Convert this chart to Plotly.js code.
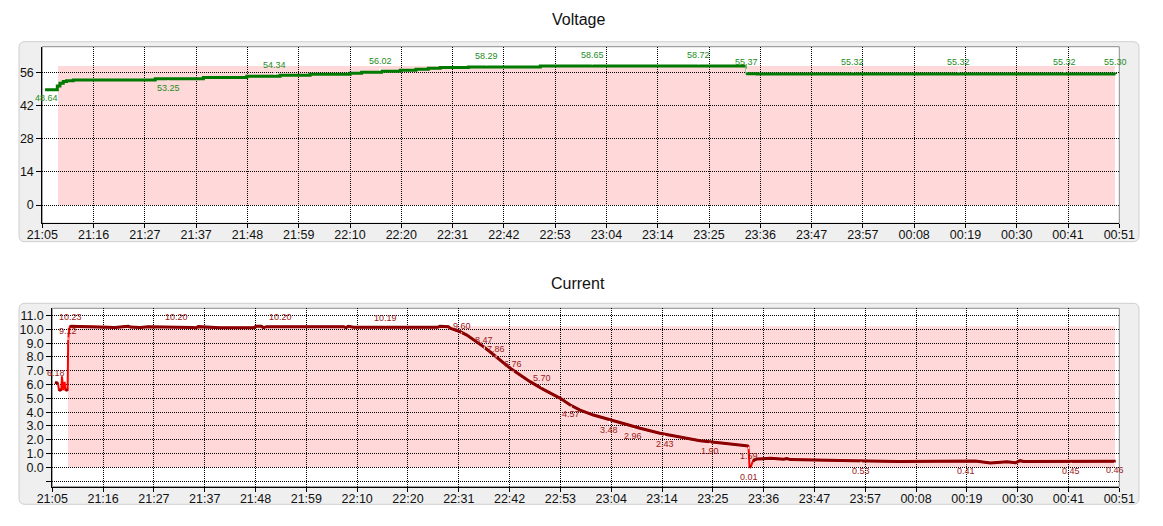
<!DOCTYPE html>
<html><head><meta charset="utf-8">
<script src="https://cdn.plot.ly/plotly-3.0.1.min.js"></script>
<style>html,body{margin:0;padding:0;background:#fff}#chart{width:1163px;height:526px}</style>
</head><body><div id="chart"></div>
<script>
// ---------- data (x = minutes after 21:05) ----------
const timeTickLabels = ['21:05','21:16','21:27','21:37','21:48','21:59','22:10','22:20','22:31','22:42','22:53','23:04','23:14','23:25','23:36','23:47','23:57','00:08','00:19','00:30','00:41','00:51'];
const spanMinutes = 226;
const chargeWindow = [3.3, 225.1];

const voltMinutes = [0.6, 3.0, 3.15, 3.7, 4.4, 5.1, 6.5, 23.7, 33.8, 42.9, 49.9, 56.2, 64.6, 67.0, 71.2, 75.1, 78.4, 81.0, 83.5, 89.4, 104.5, 120.0, 147.5, 147.7, 150.0, 225.2];
const voltValues  = [48.64, 48.64, 50.2, 51.4, 52.1, 52.5, 52.8, 53.25, 53.8, 54.34, 54.75, 55.15, 55.6, 56.02, 56.45, 56.9, 57.35, 57.75, 58.0, 58.29, 58.65, 58.72, 58.72, 55.37, 55.32, 55.30];
const voltTicks = [0, 14, 28, 42, 56];
const voltLabelMinutes = [0.78, 26.4, 48.8, 70.9, 93.2, 115.4, 137.7, 147.8, 170.1, 192.3, 214.5, 225.1];
const voltLabelValues  = [48.64, 53.25, 54.34, 56.02, 58.29, 58.65, 58.72, 55.37, 55.32, 55.32, 55.32, 55.30];

const curMinutes = [0.57, 1.2, 1.4, 1.9, 2.05, 2.3, 2.6, 2.8, 3.25, 3.3, 3.36, 3.5, 3.75, 12.9, 13.2, 16.1, 16.5, 18.6, 20.3, 29.9, 30.4, 30.9, 32.7, 35.5, 42.6, 43.2, 44.3, 44.7, 45.4, 61.7, 62.2, 62.7, 63.8, 78.6, 81.6, 82.1, 83.9, 84.3, 86.4, 87.8, 89.9, 91.3, 92.7, 94.9, 97.0, 99.1, 101.2, 104.0, 107.6, 109.7, 111.8, 114.6, 118.2, 121.7, 124.5, 128.7, 133.0, 137.2, 142.2, 147.46, 147.68, 147.97, 148.4, 149.2, 152.1, 154.9, 155.6, 156.3, 166.9, 177.8, 179.2, 195.5, 196.2, 198.7, 202.2, 204.0, 205.0, 205.7, 225.2];
const curValues  = [6.16, 6.1, 5.6, 5.6, 6.6, 5.6, 6.2, 5.6, 5.6, 8.3, 9.12, 9.8, 10.23, 10.18, 10.13, 10.22, 10.17, 10.13, 10.2, 10.14, 10.1, 10.2, 10.18, 10.12, 10.12, 10.22, 10.22, 10.13, 10.2, 10.2, 10.13, 10.22, 10.15, 10.18, 10.15, 10.22, 10.2, 10.08, 9.83, 9.59, 9.11, 8.75, 8.38, 7.78, 7.18, 6.69, 6.21, 5.65, 5.0, 4.52, 4.15, 3.79, 3.43, 3.07, 2.83, 2.47, 2.18, 1.93, 1.74, 1.54, 0.01, 0.05, 0.46, 0.6, 0.65, 0.58, 0.64, 0.56, 0.5, 0.43, 0.42, 0.45, 0.42, 0.32, 0.41, 0.33, 0.48, 0.42, 0.43];
const curTicks = [-1, 0, 1, 2, 3, 4, 5, 6, 7, 8, 9, 10, 11];
const curLabelMinutes = [0.78, 3.33, 3.86, 26.2, 48.4, 70.6, 86.7, 91.5, 94.0, 97.6, 103.7, 109.9, 118.0, 123.1, 129.7, 139.3, 147.5, 147.6, 171.3, 193.5, 215.8, 225.0];
const curLabelValues  = [6.18, 9.12, 10.23, 10.20, 10.20, 10.19, 9.60, 8.47, 7.86, 6.76, 5.70, 4.57, 3.48, 2.96, 2.43, 1.90, 1.59, 0.01, 0.53, 0.41, 0.45, 0.46];

// ---------- style / layout ----------
const voltLabelDy = [8, 9, -11, -11, -11, -11, -11, -11.5, -11.5, -11.5, -11.5, -11.5];
const curLabelDy  = [-9.4, -10.8, -9.5, -10, -10, -9, -9.2, -10.5, -10, -9.8, -10.4, 10, 10.7, 9.5, 10.5, 10, 10.3, 10, 10.7, 9.5, 9.5, 9.5];

const W = 1163, H = 526;
const px = x => x / W, py = y => 1 - y / H;
const FONT = "'Liberation Sans', Arial, sans-serif";

function withGaps(t, v, maxJump, maxSlope) {
  const xs = [], ys = [];
  for (let i = 0; i < t.length; i++) {
    xs.push(t[i]); ys.push(v[i]);
    if (i < t.length - 1) {
      const d = Math.abs(v[i + 1] - v[i]);
      const s = d / (t[i + 1] - t[i]);
      if (d > maxJump || s > maxSlope) { xs.push((t[i] + t[i + 1]) / 2); ys.push(null); }
    }
  }
  return {xs, ys};
}

const tickVals = timeTickLabels.map((_, k) => k * spanMinutes / (timeTickLabels.length - 1));

const vGap = withGaps(voltMinutes, voltValues, 2.5, Infinity);
const cGap = withGaps(curMinutes, curValues, Infinity, 0.5);

const traces = [
  {x: voltMinutes, y: voltValues, type: 'scatter', mode: 'lines', line: {color: '#3aa63a', width: 1.3, shape: 'hv'}, xaxis: 'x', yaxis: 'y', hoverinfo: 'skip'},
  {x: vGap.xs, y: vGap.ys, type: 'scatter', mode: 'lines', line: {color: '#007a00', width: 3, shape: 'hv'}, connectgaps: false, xaxis: 'x', yaxis: 'y'},
  {x: curMinutes, y: curValues, type: 'scatter', mode: 'lines', line: {color: '#ff0000', width: 2}, xaxis: 'x2', yaxis: 'y2', hoverinfo: 'skip'},
  {x: cGap.xs, y: cGap.ys, type: 'scatter', mode: 'lines', line: {color: '#8b0000', width: 3}, connectgaps: false, xaxis: 'x2', yaxis: 'y2'}
];

function roundRect(x0, y0, x1, y1, r) {
  const P = (x, y) => px(x).toFixed(5) + ',' + py(y).toFixed(5);
  return 'M' + P(x0 + r, y0) + ' L' + P(x1 - r, y0) + ' Q' + P(x1, y0) + ' ' + P(x1, y0 + r) +
    ' L' + P(x1, y1 - r) + ' Q' + P(x1, y1) + ' ' + P(x1 - r, y1) +
    ' L' + P(x0 + r, y1) + ' Q' + P(x0, y1) + ' ' + P(x0, y1 - r) +
    ' L' + P(x0, y0 + r) + ' Q' + P(x0, y0) + ' ' + P(x0 + r, y0) + ' Z';
}

const panels = [
  {box: [19, 41.7, 1139, 241.7], plot: [42.3, 46.7, 1119.3, 223.3]},
  {box: [19, 303.3, 1139, 504.3], plot: [52.3, 308.3, 1119.3, 486.7]}
];

const shapes = [];
panels.forEach(p => {
  shapes.push({type: 'path', xref: 'paper', yref: 'paper', path: roundRect(p.box[0], p.box[1], p.box[2], p.box[3], 6),
    fillcolor: '#efefef', line: {color: '#cfcfcf', width: 1}, layer: 'below'});
  shapes.push({type: 'rect', xref: 'paper', yref: 'paper', x0: px(p.plot[0]), x1: px(p.plot[2]), y0: py(p.plot[3]), y1: py(p.plot[1]),
    fillcolor: '#ffffff', line: {color: '#8c8c8c', width: 1}, layer: 'below'});
});
shapes.push({type: 'rect', xref: 'x', yref: 'y', x0: chargeWindow[0], x1: chargeWindow[1], y0: 0, y1: Math.max(...voltValues),
  fillcolor: '#ffd9d9', line: {width: 0}, layer: 'below'});
shapes.push({type: 'rect', xref: 'x2', yref: 'y2', x0: chargeWindow[0], x1: chargeWindow[1], y0: 0, y1: Math.max(...curValues),
  fillcolor: '#ffd9d9', line: {width: 0}, layer: 'below'});

function labelAnn(xs, vs, dys, xref, yref, color) {
  return xs.map((x, i) => ({
    x: x, y: vs[i], xref: xref, yref: yref, text: vs[i].toFixed(2),
    showarrow: true, arrowhead: 0, arrowwidth: 1, arrowcolor: '#ffffff', ax: 0, ay: dys[i], standoff: 1.5,
    font: {family: FONT, size: 9, color: color}
  }));
}

const annotations = [
  {text: 'Voltage', xref: 'paper', yref: 'paper', x: px(578), y: py(20), showarrow: false, xanchor: 'center', yanchor: 'middle', font: {family: FONT, size: 16, color: '#111'}},
  {text: 'Current', xref: 'paper', yref: 'paper', x: px(578), y: py(283), showarrow: false, xanchor: 'center', yanchor: 'middle', font: {family: FONT, size: 16, color: '#111'}},
  ...labelAnn(voltLabelMinutes, voltLabelValues, voltLabelDy, 'x', 'y', '#1e8c1e'),
  ...labelAnn(curLabelMinutes, curLabelValues, curLabelDy, 'x2', 'y2', '#9a1a1a')
];

const gridCommon = {showgrid: true, gridcolor: '#000', griddash: '1px,1px', gridwidth: 1, zeroline: false,
  showline: true, linecolor: '#000', linewidth: 1, ticks: 'outside', tickcolor: '#000', fixedrange: true,
  tickfont: {family: FONT, size: 12.5, color: '#111'}};

const layout = {
  width: W, height: H, margin: {l: 0, r: 0, t: 0, b: 0},
  paper_bgcolor: '#ffffff', plot_bgcolor: '#ffffff', showlegend: false,
  font: {family: FONT},
  xaxis: Object.assign({}, gridCommon, {domain: [px(42.3), px(1119.3)], range: [0, spanMinutes], tickmode: 'array', tickvals: tickVals, ticktext: timeTickLabels, ticklen: 4, ticklabelstandoff: -4, anchor: 'y'}),
  yaxis: Object.assign({}, gridCommon, {domain: [py(223.3), py(46.7)], range: [-7.72, 66.82], tickmode: 'array', tickvals: voltTicks, ticktext: voltTicks.map(String), ticklen: 5, anchor: 'x'}),
  xaxis2: Object.assign({}, gridCommon, {domain: [px(52.3), px(1119.3)], range: [0, spanMinutes], tickmode: 'array', tickvals: tickVals, ticktext: timeTickLabels, ticklen: 4, ticklabelstandoff: -4, anchor: 'y2'}),
  yaxis2: Object.assign({}, gridCommon, {domain: [py(486.7), py(308.3)], range: [-1.407, 11.53], tickmode: 'array', tickvals: curTicks, ticktext: curTicks.map(v => v < 0 ? '' : v.toFixed(1)), ticklen: 5, anchor: 'x2'}),
  shapes: shapes,
  annotations: annotations
};

Plotly.newPlot('chart', traces, layout, {displayModeBar: false, staticPlot: true});
</script>
</body></html>
